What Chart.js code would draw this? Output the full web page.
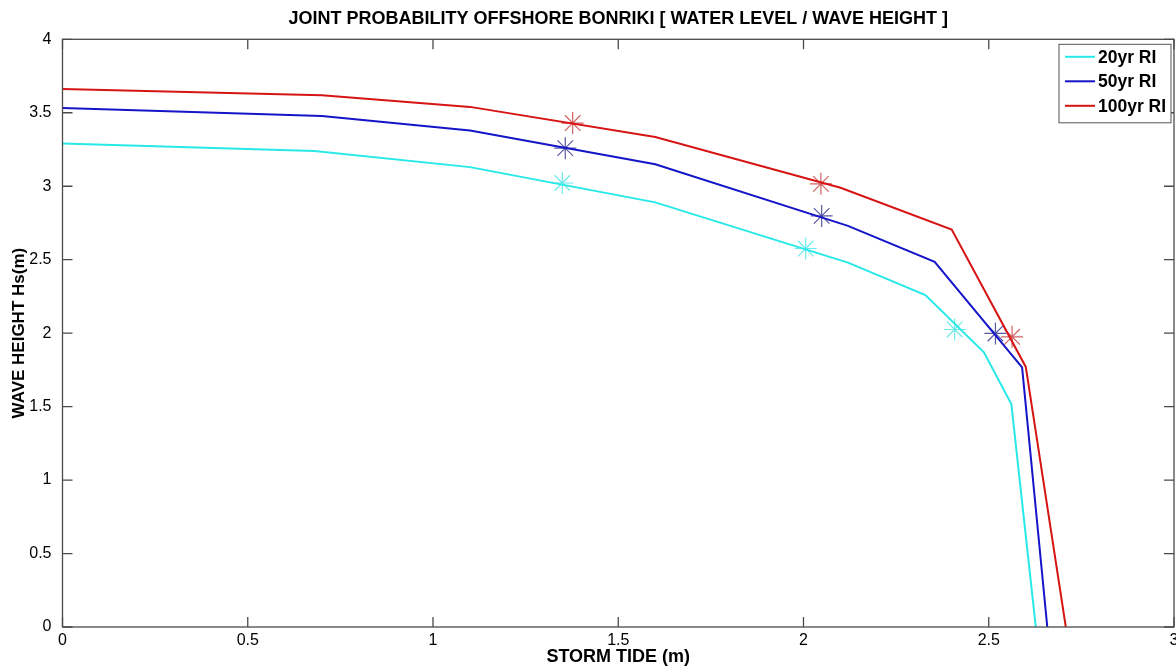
<!DOCTYPE html>
<html>
<head>
<meta charset="utf-8">
<script src="https://cdn.jsdelivr.net/npm/chart.js@4/dist/chart.umd.min.js"></script>
<style>
  html, body { margin: 0; padding: 0; background: #fff; }
  #wrap { width: 1176px; height: 668px; }
</style>
</head>
<body>
<div id="wrap"><canvas id="jp"></canvas></div>
<script>
'use strict';

// joint probability curves, storm tide (x) vs wave height (y)
var cyanX = [0, 0.68, 1.10, 1.60, 2.12, 2.329, 2.487, 2.561, 2.627];
var cyanY = [3.29, 3.24, 3.13, 2.89, 2.48, 2.259, 1.869, 1.517, 0];

var blueX = [0, 0.70, 1.10, 1.60, 2.12, 2.354, 2.59, 2.658];
var blueY = [3.533, 3.478, 3.38, 3.15, 2.73, 2.485, 1.767, 0];

var redX = [0, 0.70, 1.10, 1.60, 2.10, 2.40, 2.60, 2.708];
var redY = [3.662, 3.62, 3.54, 3.335, 2.99, 2.705, 1.77, 0];

// the asterisk markers
var cyanMarkX = [1.349, 2.006, 2.408];
var cyanMarkY = [3.022, 2.576, 2.025];
var blueMarkX = [1.357, 2.049, 2.518];
var blueMarkY = [3.259, 2.798, 1.998];
var redMarkX = [1.377, 2.047, 2.563];
var redMarkY = [3.43, 3.016, 1.975];

var labels = ['20yr RI', '50yr RI', '100yr RI'];

var FONT = "'Liberation Sans', Arial, Helvetica, sans-serif";

function pts(xs, ys) {
  var out = [];
  for (var i = 0; i < xs.length; i++) {
    out.push({x: xs[i], y: ys[i]});
  }
  return out;
}

function lineSet(label, xs, ys, color) {
  return {
    label: label,
    data: pts(xs, ys),
    showLine: true,
    borderColor: color,
    backgroundColor: color,
    borderWidth: 2,
    pointRadius: 0,
    tension: 0,
    isLine: true
  };
}

function markSet(xs, ys, color) {
  return {
    label: '',
    data: pts(xs, ys),
    showLine: false,
    pointStyle: 'star',
    pointRadius: 11,
    pointBorderWidth: 1.2,
    pointBorderColor: color,
    pointBackgroundColor: color,
    borderColor: color
  };
}

// plain numbers like matlab: 1 not 1.0
function tickText(v) {
  return String(Math.round(v * 10) / 10);
}

// matlab style box with inward ticks on all four sides
var framePlugin = {
  id: 'frame',
  afterDraw: function(chart) {
    var ctx = chart.ctx;
    var a = chart.chartArea;
    var sx = chart.scales.x, sy = chart.scales.y;
    var len = 10;
    ctx.save();
    ctx.strokeStyle = '#4a4a4a';
    ctx.lineWidth = 1.3;
    ctx.strokeRect(a.left, a.top, a.right - a.left, a.bottom - a.top);
    ctx.beginPath();
    sx.ticks.forEach(function(t) {
      var px = sx.getPixelForValue(t.value);
      ctx.moveTo(px, a.bottom); ctx.lineTo(px, a.bottom - len);
      ctx.moveTo(px, a.top); ctx.lineTo(px, a.top + len);
    });
    sy.ticks.forEach(function(t) {
      var py = sy.getPixelForValue(t.value);
      ctx.moveTo(a.left, py); ctx.lineTo(a.left + len, py);
      ctx.moveTo(a.right, py); ctx.lineTo(a.right - len, py);
    });
    ctx.stroke();
    ctx.restore();
  }
};

// legend box drawn inside the plot, top right
var legendPlugin = {
  id: 'boxLegend',
  afterDraw: function(chart) {
    var ctx = chart.ctx;
    var a = chart.chartArea;
    var sets = chart.data.datasets.filter(function(d) { return d.isLine; });
    var w = 112, rowH = 24.5;
    var h = 10 + rowH * sets.length - 5;
    var x0 = a.right - w - 3, y0 = a.top + 5;
    ctx.save();
    ctx.fillStyle = '#fff';
    ctx.fillRect(x0, y0, w, h);
    ctx.strokeStyle = '#555';
    ctx.lineWidth = 1;
    ctx.strokeRect(x0, y0, w, h);
    ctx.font = 'bold 17.5px ' + FONT;
    ctx.textBaseline = 'middle';
    ctx.textAlign = 'left';
    sets.forEach(function(d, i) {
      var y = y0 + 12.5 + i * rowH;
      ctx.strokeStyle = d.borderColor;
      ctx.lineWidth = 2;
      ctx.beginPath();
      ctx.moveTo(x0 + 6, y);
      ctx.lineTo(x0 + 36, y);
      ctx.stroke();
      ctx.fillStyle = '#000';
      ctx.fillText(d.label, x0 + 39, y + 1);
    });
    ctx.restore();
  }
};

var ctx = document.getElementById('jp');

new Chart(ctx, {
  type: 'scatter',
  data: {
    datasets: [
      lineSet(labels[0], cyanX, cyanY, 'rgb(40,232,232)'),
      lineSet(labels[1], blueX, blueY, 'rgb(20,20,200)'),
      lineSet(labels[2], redX, redY, 'rgb(215,20,20)'),
      markSet(cyanMarkX, cyanMarkY, 'rgba(60,225,225,0.75)'),
      markSet(blueMarkX, blueMarkY, 'rgba(60,60,150,0.85)'),
      markSet(redMarkX, redMarkY, 'rgba(200,70,70,0.85)')
    ]
  },
  options: {
    responsive: true,
    maintainAspectRatio: false,
    animation: false,
    layout: { autoPadding: false, padding: { left: 0, right: 2, top: 0, bottom: 0 } },
    plugins: {
      legend: { display: false },
      tooltip: { enabled: false },
      title: {
        display: true,
        fullSize: false,   // centre over the plot box, not the canvas
        text: 'JOINT PROBABILITY OFFSHORE BONRIKI [ WATER LEVEL / WAVE HEIGHT ]',
        color: '#000',
        font: { family: FONT, size: 18, weight: 'bold', lineHeight: 1.2 },
        padding: { top: 8, bottom: 9.7 }
      }
    },
    scales: {
      x: {
        type: 'linear',
        min: 0, max: 3,
        grid: { display: false, drawTicks: false },
        border: { display: false },
        afterFit: function(s) {
          s.height = 41;
          // no extra room for the end labels, the box runs to the edge
          s.paddingLeft = 0;
          s.paddingRight = 0;
        },
        ticks: {
          stepSize: 0.5,
          autoSkip: false,
          maxRotation: 0,
          padding: 4,
          color: '#000',
          font: { family: FONT, size: 16 },
          callback: tickText
        },
        title: {
          display: true,
          text: 'STORM TIDE (m)',
          color: '#000',
          font: { family: FONT, size: 18, weight: 'bold', lineHeight: 1.2 },
          padding: { top: 0, bottom: 0 }
        }
      },
      y: {
        type: 'linear',
        min: 0, max: 4,
        grid: { display: false, drawTicks: false },
        border: { display: false },
        afterFit: function(s) {
          s.width = 62.5;
          s.paddingTop = 0;
          s.paddingBottom = 0;
        },
        ticks: {
          stepSize: 0.5,
          autoSkip: false,
          padding: 11,
          color: '#000',
          font: { family: FONT, size: 16 },
          callback: tickText
        },
        title: {
          display: true,
          text: 'WAVE HEIGHT Hs(m)',
          color: '#000',
          font: { family: FONT, size: 17, weight: 'bold', lineHeight: 1.2 },
          padding: { top: 9, bottom: 0 }
        }
      }
    }
  },
  plugins: [framePlugin, legendPlugin]
});
</script>
</body>
</html>
